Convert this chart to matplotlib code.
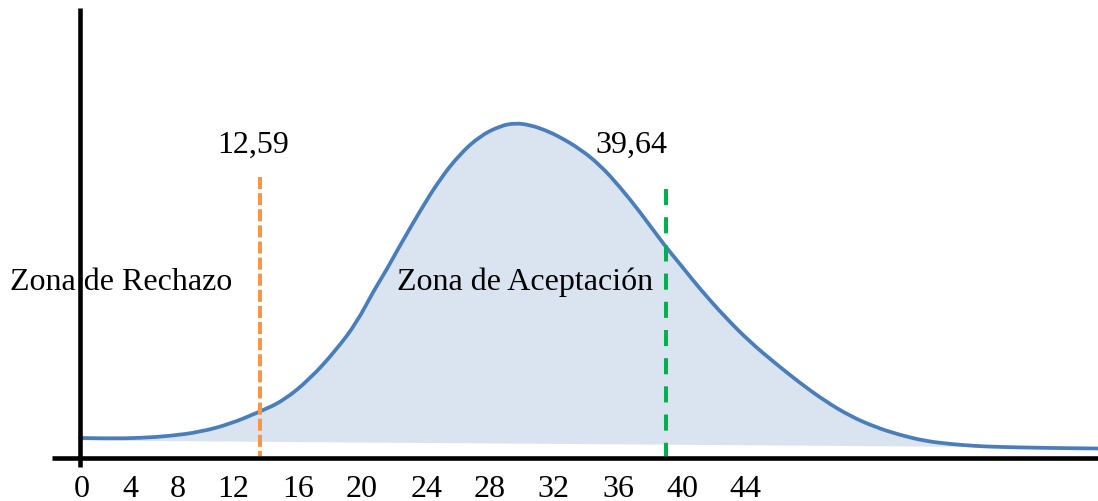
import matplotlib
matplotlib.use("Agg")
import matplotlib.pyplot as plt
from matplotlib.path import Path
from matplotlib.patches import PathPatch
import numpy as np

# ---- data (diagram coordinates, pixel-like units) ----
curve_x = [80, 110, 140, 170, 200, 230, 259, 283, 310, 337, 357, 373, 387, 398,
           420, 440, 460, 480, 500, 515, 530, 545, 560, 580, 600, 620, 640, 665,
           680, 700, 725, 750, 775, 800, 825, 850, 875, 900, 925, 950, 975, 1000,
           1050, 1098]
curve_y = [439, 439.5, 439, 437, 433, 425, 413, 402, 380, 350, 323, 293, 270, 250,
           212, 180, 155, 137, 127, 124, 126, 131, 138, 150, 166, 188, 213, 247,
           265, 290, 318, 343, 364, 384, 402, 417, 428, 436, 442, 445, 447, 448,
           449, 449.5]
tick_labels = ["0", "4", "8", "12", "16", "20", "24", "28", "32", "36", "40", "44"]
tick_pos = [82, 130, 178, 233, 298, 362, 427, 490, 553, 618, 682, 745]
crit_labels = ["12,59", "39,64"]
zone_labels = ["Zona de Rechazo", "Zona de Aceptación"]

FONT = "Liberation Serif"
FS = 23

fig = plt.figure(figsize=(10.98, 5.02), dpi=100)
ax = fig.add_axes([0, 0, 1, 1])
ax.set_xlim(0, 1098)
ax.set_ylim(502, 0)
ax.axis("off")

cx = np.array(curve_x, dtype=float)
cy = np.array(curve_y, dtype=float)
# shaded region: between the curve and a slightly sloped base line
base = 441 + (cx - 80) * (447 - 441) / (917 - 80)
ax.fill_between(cx, cy, base, where=cy <= base + 0.5, interpolate=True,
                color="#DAE4F1", linewidth=0, zorder=1)

# axes lines
ax.plot([79.5, 79.5], [9, 468], color="black", lw=3.3, solid_capstyle="butt", zorder=4)
ax.plot([52, 1098], [458.5, 458.5], color="black", lw=3.3, solid_capstyle="butt", zorder=4)

# curve drawn as a smooth quadratic-Bezier path through the read points
pts = list(zip(cx, cy))
verts = [pts[0]]
codes = [Path.MOVETO]
for i in range(1, len(pts) - 1):
    mid = ((pts[i][0] + pts[i + 1][0]) / 2, (pts[i][1] + pts[i + 1][1]) / 2)
    verts += [pts[i], mid]
    codes += [Path.CURVE3, Path.CURVE3]
verts.append(pts[-1])
codes.append(Path.LINETO)
ax.add_patch(PathPatch(Path(verts, codes), facecolor="none", edgecolor="#4A7EBB",
                       lw=2.7, capstyle="round", joinstyle="round", zorder=3))

# critical value lines
lo, = ax.plot([259.5, 259.5], [178, 457], color="#F79646", lw=2.9, zorder=5)
lo.set_dashes((3, 1))
lo.set_dash_capstyle("butt")
hi, = ax.plot([666, 666], [190, 457], color="#00B050", lw=2.9, zorder=5)
hi.set_dashes((4, 3))
hi.set_dash_capstyle("butt")

# texts
ax.text(253, 153, crit_labels[0], fontsize=FS, family=FONT, ha="center", va="baseline")
ax.text(631, 153, crit_labels[1], fontsize=FS, family=FONT, ha="center", va="baseline")
ax.text(10, 290, zone_labels[0], fontsize=FS, family=FONT, ha="left", va="baseline", zorder=2)
ax.text(397, 290, zone_labels[1], fontsize=FS, family=FONT, ha="left", va="baseline", zorder=2)

for lab, p in zip(tick_labels, tick_pos):
    ax.text(p, 497, lab, fontsize=FS, family=FONT, ha="center", va="baseline")

fig.savefig("out.png", dpi=100)
